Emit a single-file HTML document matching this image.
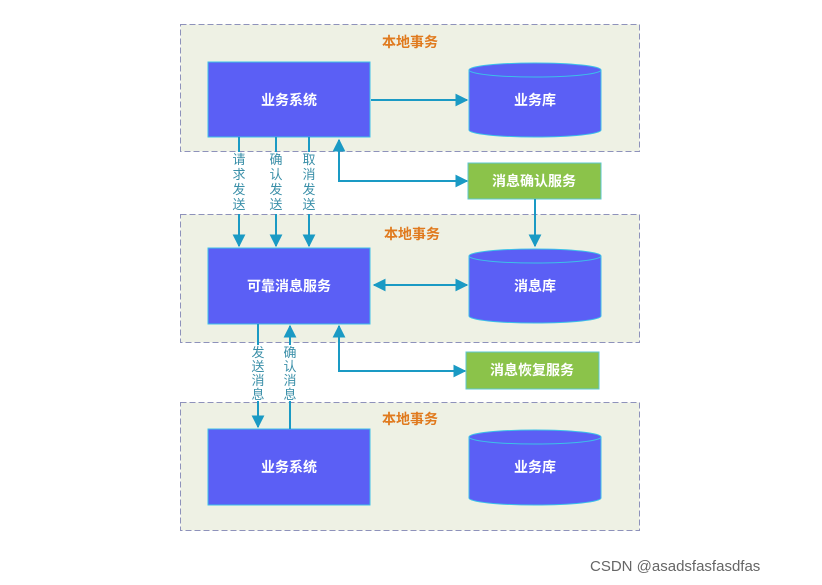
<!DOCTYPE html>
<html><head><meta charset="utf-8"><style>
body{margin:0;background:#fff;width:822px;height:580px;overflow:hidden}
svg text{font-family:"Liberation Sans","Noto Sans CJK SC",sans-serif}
</style></head><body>
<svg width="822" height="580" viewBox="0 0 822 580" xmlns="http://www.w3.org/2000/svg">
<defs>
<marker id="a" viewBox="0 0 10 10" refX="9" refY="5" markerWidth="6.5" markerHeight="6.5" orient="auto-start-reverse"><path d="M0,0L10,5L0,10z" fill="#1a9ac4"/></marker>
</defs>
<g fill="#eef1e4" stroke="#8e92bb" stroke-dasharray="6,3" stroke-width="1">
<rect x="180.5" y="24.5" width="459" height="127"/>
<rect x="180.5" y="214.5" width="459" height="128"/>
<rect x="180.5" y="402.5" width="459" height="128"/>
</g>
<g font-size="14" font-weight="bold" fill="#e07a1e" text-anchor="middle">
<text x="410" y="47">本地事务</text><text x="412" y="239">本地事务</text><text x="410" y="424">本地事务</text>
</g>
<g fill="#5b5ff5" stroke="#3cc0e8" stroke-width="1">
<rect x="208" y="62" width="162" height="75"/>
<rect x="208" y="248" width="162" height="76"/>
<rect x="208" y="429" width="162" height="76"/>
</g>
<g fill="#5b5ff5" stroke="#3cc0e8" stroke-width="1">
<path d="M469,70 V130 A66,7 0 0 0 601,130 V70"/><ellipse cx="535" cy="70" rx="66" ry="7"/>
<path d="M469,256 V316 A66,7 0 0 0 601,316 V256"/><ellipse cx="535" cy="256" rx="66" ry="7"/>
<path d="M469,437 V498 A66,7 0 0 0 601,498 V437"/><ellipse cx="535" cy="437" rx="66" ry="7"/>
</g>
<g fill="#8bc34a" stroke="#5cc7cf"><rect x="468" y="163" width="133" height="36"/><rect x="466" y="352" width="133" height="37"/></g>
<g font-size="14" font-weight="bold" fill="#fff" text-anchor="middle">
<text x="289" y="105">业务系统</text><text x="535" y="105">业务库</text>
<text x="289" y="291">可靠消息服务</text><text x="535" y="291">消息库</text>
<text x="289" y="472">业务系统</text><text x="535" y="472">业务库</text>
<text x="534" y="186">消息确认服务</text><text x="532" y="375">消息恢复服务</text>
</g>
<g stroke="#1a9ac4" stroke-width="2" fill="none" marker-end="url(#a)">
<path d="M371,100H467"/>
<path d="M239,137V246"/><path d="M276,137V246"/><path d="M309,137V246"/>
<path d="M467,181H339V140" marker-start="url(#a)"/>
<path d="M535,199V246"/>
<path d="M374,285H467" marker-start="url(#a)"/>
<path d="M258,324V427"/><path d="M290,429V326"/>
<path d="M465,371H339V326" marker-start="url(#a)"/>
</g>
<g font-size="13" fill="#3a8fa8" text-anchor="middle">
<rect x="231" y="152" width="16" height="62" fill="#fff"/><rect x="268" y="152" width="16" height="62" fill="#fff"/><rect x="301" y="152" width="16" height="62" fill="#fff"/>
<rect x="250" y="345" width="16" height="56" fill="#fff"/><rect x="282" y="345" width="16" height="56" fill="#fff"/>
<text x="239" y="164">请</text><text x="239" y="179">求</text><text x="239" y="194">发</text><text x="239" y="209">送</text>
<text x="276" y="164">确</text><text x="276" y="179">认</text><text x="276" y="194">发</text><text x="276" y="209">送</text>
<text x="309" y="164">取</text><text x="309" y="179">消</text><text x="309" y="194">发</text><text x="309" y="209">送</text>
<text x="258" y="357">发</text><text x="258" y="371">送</text><text x="258" y="385">消</text><text x="258" y="399">息</text>
<text x="290" y="357">确</text><text x="290" y="371">认</text><text x="290" y="385">消</text><text x="290" y="399">息</text>
</g>
<text x="590" y="571" font-size="15" fill="#666">CSDN @asadsfasfasdfas</text>
</svg>
</body></html>
